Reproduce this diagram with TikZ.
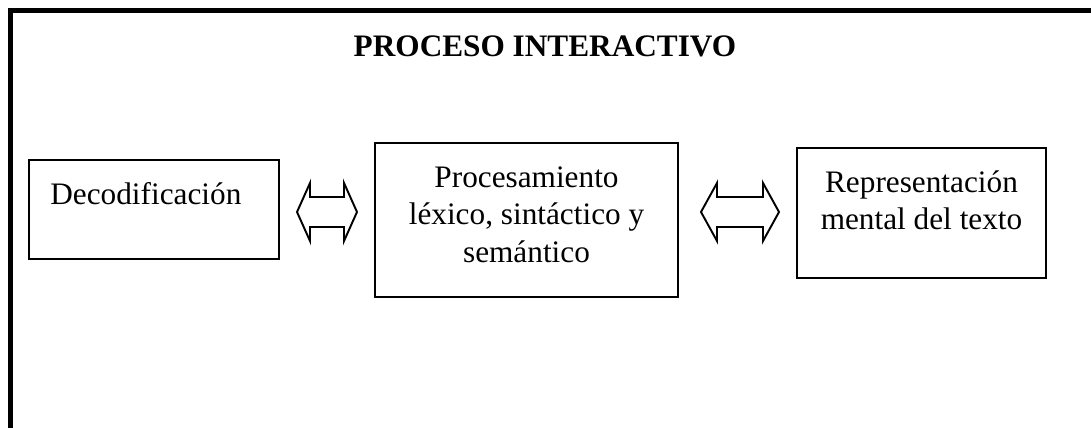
\documentclass[tikz,border=0pt]{standalone}
\usepackage{fontspec}
\setmainfont{Liberation Serif}
\usetikzlibrary{calc}

\begin{document}
\begin{tikzpicture}
[x=0.02cm,y=-0.02cm,
every node/.style={font=\fontsize{17.8}{21.5}\selectfont,inner sep=0pt},
box/.style={draw,line width=1.1pt},
txt/.style={align=center},
dblarrow/.style={draw,line width=1.1pt},
]
\useasboundingbox (0,0) rectangle (1091,428);
% marco
\draw[line width=2.3pt] (10.5,428) -- (10.5,10.5) -- (1091,10.5);
\node[anchor=base,font=\fontsize{17.8}{21.5}\selectfont\bfseries] (titulo) at (545,57) {PROCESO INTERACTIVO};
% cajas
\node[box,minimum width=5cm,minimum height=1.98cm] (dec) at (154,209.5) {};
\node[box,minimum width=6.06cm,minimum height=3.08cm] (proc) at (526.5,220) {};
\node[box,minimum width=4.98cm,minimum height=2.6cm] (rep) at (921.5,213) {};
\node[anchor=base west] (dectxt) at (50,205) {Decodificación};
\node[txt,anchor=north] (proctxt) at (proc.north |- 0,166) {Procesamiento\\léxico, sintáctico y\\semántico};
\node[txt,anchor=north] (reptxt) at (rep.north |- 0,170) {Representación\\mental del texto};
% flechas
\coordinate (f1) at ($(dec.east)!0.5!(proc.west)$);
\coordinate (f2) at (740,212);
\draw[dblarrow,shift={(f1 |- 0,212)}] (-30,0) -- (-17,-29) -- (-17,-15) -- (17,-15) -- (17,-29) -- (30,0)
  -- (17,29) -- (17,15) -- (-17,15) -- (-17,29) -- cycle;
\draw[dblarrow,shift={(f2)}] (-39,0) -- (-23,-29) -- (-23,-15) -- (23,-15) -- (23,-29) -- (39,0)
  -- (23,29) -- (23,15) -- (-23,15) -- (-23,29) -- cycle;
\end{tikzpicture}
\end{document}
